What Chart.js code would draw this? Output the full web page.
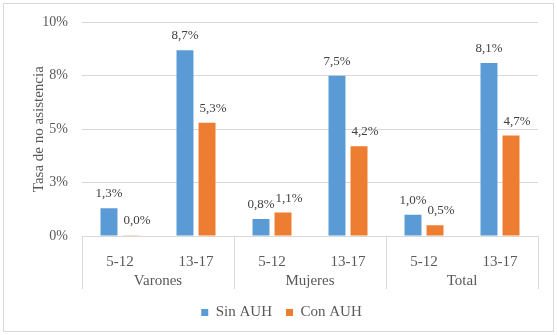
<!DOCTYPE html>
<html>
<head>
<meta charset="utf-8">
<script src="https://cdn.jsdelivr.net/npm/chart.js@4"></script>
<style>
  body { margin: 0; background: #fff; }
  #wrap { width: 557px; height: 335px; }
</style>
</head>
<body>
<div id="wrap"><canvas id="myChart" width="557" height="335"></canvas></div>
<script>
// data
const ageGroups = ['5-12', '13-17', '5-12', '13-17', '5-12', '13-17'];
const sexGroups = ['Varones', 'Mujeres', 'Total'];
const sinAuh = [1.3, 8.7, 0.8, 7.5, 1.0, 8.1];
const conAuh = [0.04, 5.3, 1.1, 4.2, 0.5, 4.7];
const yTicks = [0, 2.5, 5, 7.5, 10];

const serif = "'Liberation Serif', serif";
const grey = '#595959';
Chart.defaults.font.family = serif;

// value labels above each bar
const barLabels = {
  id: 'barLabels',
  afterDatasetsDraw(chart) {
    const ctx = chart.ctx;
    ctx.save();
    ctx.font = '13px ' + serif;
    ctx.fillStyle = '#404040';
    ctx.textAlign = 'center';
    ctx.textBaseline = 'alphabetic';
    chart.data.datasets.forEach((ds, i) => {
      const meta = chart.getDatasetMeta(i);
      meta.data.forEach((bar, j) => {
        const txt = ds.data[j].toFixed(1).replace('.', ',') + '%';
        ctx.fillText(txt, bar.x + (ds.labelShift || 0), bar.y - 11);
      });
    });
    ctx.restore();
  }
};

// group row + separators under the x axis, and outer frame
const groupAxis = {
  id: 'groupAxis',
  afterDraw(chart) {
    const ctx = chart.ctx;
    const x = chart.scales.x;
    const per = ageGroups.length / sexGroups.length;
    const catW = (x.right - x.left) / ageGroups.length;
    ctx.save();
    ctx.strokeStyle = '#d9d9d9';
    ctx.lineWidth = 1;
    for (let k = 0; k <= sexGroups.length; k++) {
      const px = Math.round(x.left + k * per * catW) + 0.5;
      ctx.beginPath();
      ctx.moveTo(px, x.top);
      ctx.lineTo(px, x.top + 53);
      ctx.stroke();
    }
    ctx.font = '15px ' + serif;
    ctx.fillStyle = grey;
    ctx.textAlign = 'center';
    ctx.textBaseline = 'middle';
    sexGroups.forEach((g, k) => {
      ctx.fillText(g, x.left + (k + 0.5) * per * catW, x.top + 45);
    });
    ctx.strokeRect(3.5, 3.5, 550, 328);
    ctx.restore();
  }
};

const ctx = document.getElementById('myChart');

new Chart(ctx, {
  type: 'bar',
  data: {
    labels: ageGroups,
    datasets: [{
      label: 'Sin AUH',
      data: sinAuh,
      backgroundColor: '#5b9bd5'
    }, {
      label: 'Con AUH',
      data: conAuh,
      backgroundColor: '#ed7d31',
      labelShift: 6
    }]
  },
  options: {
    responsive: false,
    animation: false,
    categoryPercentage: 0.58,
    barPercentage: 0.77,
    layout: {padding: {left: 25, right: 19, top: 8, bottom: 5}},
    plugins: {
      tooltip: {enabled: false},
      legend: {
        position: 'bottom',
        labels: {
          boxWidth: 7,
          boxHeight: 7,
          padding: 14,
          color: grey,
          font: {family: serif, size: 15}
        }
      }
    },
    scales: {
      x: {
        grid: {display: false},
        border: {display: true, color: '#d9d9d9'},
        ticks: {color: grey, font: {family: serif, size: 15}, padding: 9},
        afterFit(scale) { scale.height = 55; }
      },
      y: {
        min: 0,
        max: 10,
        afterBuildTicks(scale) { scale.ticks = yTicks.map((v) => ({value: v})); },
        grid: {color: '#d9d9d9', drawTicks: false},
        border: {display: false},
        ticks: {
          color: grey,
          font: {family: serif, size: 14},
          padding: 14,
          callback: (v) => Math.round(v) + '%'
        },
        title: {
          display: true,
          text: 'Tasa de no asistencia',
          color: grey,
          font: {family: serif, size: 15},
          padding: {top: 5, bottom: 0}
        },
        afterFit(scale) { scale.width = 57; }
      }
    }
  },
  plugins: [barLabels, groupAxis]
});
</script>
</body>
</html>
